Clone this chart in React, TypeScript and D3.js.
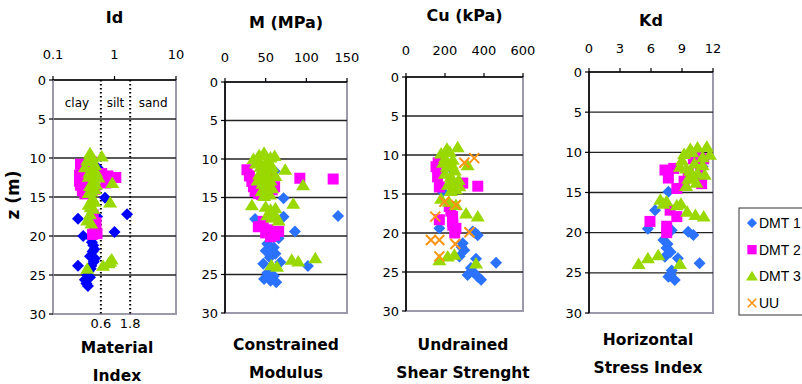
import * as d3 from "d3";

type Pt = [number, number]; // [value, depth z (m)]

const W = 802;
const H = 384;

const depthTicks = [0, 5, 10, 15, 20, 25, 30];

// Id panel
const idTicks = [0.1, 1, 10];
const idBounds = [0.6, 1.8];
const soilNames = ["clay", "silt", "sand"];
const idDmt1: Pt[] = [
  [0.54, 11.3], [0.7, 15.1], [1.6, 17.2], [0.255, 17.8], [0.52, 17.5], [1.0, 19.5],
  [0.31, 20.0], [0.42, 20.3], [0.45, 21.2], [0.44, 22.0], [0.4, 22.6], [0.48, 22.9],
  [0.46, 23.3], [0.42, 23.8], [0.255, 23.8], [0.38, 24.5], [0.36, 25.0], [0.4, 25.3],
  [0.33, 25.6], [0.35, 26.1], [0.43, 20.8], [0.47, 21.7], [0.41, 24.2], [0.37, 26.4],
];
const idDmt2: Pt[] = [
  [0.28, 10.8], [0.31, 11.5], [0.27, 12.2], [0.33, 12.8], [0.28, 13.5], [0.3, 14.2],
  [0.36, 14.5], [0.38, 11.0], [0.4, 12.4], [0.36, 13.3], [0.45, 11.6], [0.48, 14.0],
  [0.62, 12.0], [0.78, 12.3], [1.05, 12.5], [0.72, 13.2], [0.45, 17.3], [0.5, 18.3],
  [0.47, 19.0], [0.52, 19.7], [0.44, 19.8], [0.3, 11.0], [0.27, 13.0], [0.33, 14.6],
  [0.42, 10.5], [0.48, 18.8], [0.43, 17.9],
];
const idDmt3: Pt[] = [
  [0.4, 9.4], [0.36, 10.3], [0.44, 10.4], [0.62, 9.8], [0.33, 11.2], [0.42, 11.5],
  [0.5, 11.8], [0.38, 12.4], [0.46, 12.8], [0.55, 12.5], [0.92, 13.2], [0.4, 13.6],
  [0.48, 14.0], [0.38, 14.5], [0.44, 15.2], [0.85, 15.7], [0.38, 16.0], [0.45, 16.5],
  [0.4, 17.2], [0.36, 18.0], [0.42, 18.4], [0.9, 23.0], [0.8, 23.5], [0.65, 23.8],
  [0.36, 24.2], [0.43, 9.9], [0.48, 10.9], [0.39, 11.9], [0.44, 13.1], [0.5, 13.4],
  [0.42, 14.3], [0.47, 15.6], [0.41, 16.3], [0.85, 23.3],
];

// M panel
const mTicks = [0, 50, 100, 150];
const mDmt1: Pt[] = [
  [61, 11.6], [72, 15.1], [139, 17.4], [37, 17.8], [72, 17.5], [58, 17.3], [86, 19.4],
  [57, 20.1], [66, 20.3], [52, 21.0], [60, 21.5], [50, 21.9], [62, 22.3], [55, 22.8],
  [68, 23.4], [47, 23.6], [102, 23.9], [58, 24.2], [52, 24.8], [60, 25.2], [48, 25.6],
  [56, 25.8], [63, 26.0], [55, 21.3], [58, 22.0], [52, 25.2],
];
const mDmt2: Pt[] = [
  [27, 11.4], [33, 12.9], [37, 14.2], [41, 14.5], [52, 12.0], [61, 13.6], [92, 12.5],
  [133, 12.6], [47, 18.1], [41, 18.8], [53, 19.2], [61, 19.9], [66, 19.4], [56, 20.1],
  [30, 12.2], [35, 13.6], [45, 14.6], [58, 14.0], [50, 19.6],
];
const mDmt3: Pt[] = [
  [35, 10.0], [42, 9.5], [48, 9.2], [56, 9.8], [61, 9.6], [38, 10.6], [44, 11.0],
  [50, 10.8], [55, 11.4], [74, 11.4], [42, 12.0], [48, 12.4], [56, 12.8], [62, 12.2],
  [46, 13.2], [52, 13.6], [96, 13.4], [45, 14.2], [55, 14.6], [84, 15.8], [33, 16.0],
  [50, 16.2], [56, 16.6], [62, 16.4], [52, 17.3], [58, 17.6], [66, 18.0], [82, 23.1],
  [90, 23.3], [111, 22.9], [57, 23.8], [64, 24.0], [40, 9.9], [52, 10.2], [46, 11.6],
  [58, 11.0], [52, 12.0], [40, 12.8], [50, 13.0], [58, 13.8], [48, 14.8], [60, 17.0],
];

// Cu panel
const cuTicks = [0, 200, 400, 600];
const cuDmt1: Pt[] = [
  [188, 14.7], [240, 12.0], [171, 19.4], [342, 19.8], [368, 20.3], [291, 21.3],
  [299, 22.2], [274, 23.0], [359, 23.3], [462, 23.8], [333, 24.5], [316, 25.4],
  [368, 25.6], [345, 25.0], [385, 26.0], [285, 21.8], [355, 20.0],
];
const cuDmt2: Pt[] = [
  [154, 11.5], [162, 12.8], [171, 14.1], [291, 13.6], [368, 14.0], [222, 16.6],
  [239, 17.9], [171, 18.3], [239, 18.5], [256, 19.4], [250, 20.0], [165, 11.0],
  [240, 19.0], [230, 17.2],
];
const cuDmt3: Pt[] = [
  [180, 9.8], [210, 9.2], [265, 9.0], [200, 10.4], [240, 10.6], [316, 11.3], [210, 11.5],
  [250, 12.0], [230, 12.8], [270, 13.2], [215, 13.8], [255, 14.4], [274, 14.0],
  [180, 15.6], [256, 16.4], [220, 16.0], [308, 17.5], [368, 17.9], [171, 23.5],
  [214, 23.0], [248, 22.8], [359, 23.9], [225, 9.6], [190, 11.0], [235, 11.2],
  [200, 12.4], [245, 13.4], [230, 14.6],
];
const cuUU: Pt[] = [
  [299, 11.0], [350, 10.4], [197, 16.0], [256, 16.4], [150, 17.9], [128, 20.9],
  [171, 20.9], [253, 21.4], [325, 19.9], [171, 23.0],
];

// Kd panel
const kdTicks = [0, 3, 6, 9, 12];
const kdDmt1: Pt[] = [
  [7.68, 14.9], [6.4, 17.2], [5.7, 19.5], [8.0, 19.7], [9.6, 19.9], [10.1, 20.3],
  [7.2, 20.9], [7.5, 21.9], [7.35, 23.0], [8.6, 23.2], [10.7, 23.8], [8.0, 24.7],
  [7.68, 25.5], [8.3, 25.9], [11.0, 11.8], [7.6, 21.4], [7.9, 22.4], [7.9, 25.2],
];
const kdDmt2: Pt[] = [
  [7.35, 12.2], [7.68, 13.2], [8.5, 14.5], [9.6, 12.4], [10.1, 10.8], [11.1, 10.8],
  [10.9, 13.9], [7.85, 17.2], [8.5, 18.0], [5.9, 18.6], [7.52, 19.2], [7.52, 20.0],
  [8.2, 12.0], [10.5, 10.2], [10.8, 12.6], [9.2, 13.6],
];
const kdDmt3: Pt[] = [
  [9.2, 10.2], [9.8, 9.6], [10.5, 9.4], [11.4, 9.3], [11.7, 10.3], [9.0, 11.0],
  [8.8, 11.8], [10.2, 11.4], [11.0, 11.6], [9.8, 12.3], [10.5, 12.6], [9.6, 13.3],
  [10.4, 13.8], [11.2, 12.8], [9.4, 14.2], [6.9, 15.9], [7.5, 16.1], [8.5, 16.6],
  [9.5, 17.4], [10.3, 17.8], [11.1, 18.0], [4.8, 23.9], [5.7, 23.2], [6.7, 22.8],
  [8.8, 23.9], [10.0, 10.0], [11.0, 10.6], [9.4, 12.0], [10.0, 13.0], [7.2, 16.4],
  [8.9, 16.4],
];

const legendNames = ["DMT 1", "DMT 2", "DMT 3", "UU"];

const magenta = "#ff00ff";
const green = "#99d900";
const orange = "#ff9414";
const lightBlue = "#2b72ff";
const frameColor = "#9a9aab";
const font = "'DejaVu Sans', Verdana, sans-serif";

type Kind = "diamond" | "square" | "triangle" | "cross";

const markerPath = (k: Kind) => {
  if (k === "diamond") return "M0,-6L6,0L0,6L-6,0Z";
  if (k === "square") return "M-5.5,-5.5H5.5V5.5H-5.5Z";
  if (k === "triangle") return "M0,-6.5L7,5L-7,5Z";
  return "M-5,-5L5,5M5,-5L-5,5";
};

const Marker = ({ k, x, y, color }: { k: Kind; x: number; y: number; color: string }) =>
  k === "cross" ? (
    <path d={markerPath(k)} transform={`translate(${x},${y})`} stroke={color} strokeWidth={2} fill="none" />
  ) : (
    <path d={markerPath(k)} transform={`translate(${x},${y})`} fill={color} />
  );

type Series = { data: Pt[]; kind: Kind; color: string };

type PanelCfg = {
  x: d3.ScaleContinuousNumeric<number, number>;
  ticks: number[];
  top: number;
  bottom: number;
  title: string;
  titleY: number;
  tickY: number;
  label: string[];
  labelX: number;
  labelY: number;
  series: Series[];
};

const panels: PanelCfg[] = [
  {
    x: d3.scaleLog().domain([0.1, 10]).range([53, 176]),
    ticks: idTicks,
    top: 80,
    bottom: 314,
    title: "Id",
    titleY: 17,
    tickY: 54,
    label: ["Material", "Index"],
    labelX: 117,
    labelY: 348,
    series: [
      { data: idDmt1, kind: "diamond", color: "#0000ff" },
      { data: idDmt2, kind: "square", color: magenta },
      { data: idDmt3, kind: "triangle", color: green },
    ],
  },
  {
    x: d3.scaleLinear().domain([0, 150]).range([225, 347]),
    ticks: mTicks,
    top: 82,
    bottom: 313,
    title: "M (MPa)",
    titleY: 22,
    tickY: 57,
    label: ["Constrained", "Modulus"],
    labelX: 286,
    labelY: 345,
    series: [
      { data: mDmt1, kind: "diamond", color: lightBlue },
      { data: mDmt2, kind: "square", color: magenta },
      { data: mDmt3, kind: "triangle", color: green },
    ],
  },
  {
    x: d3.scaleLinear().domain([0, 600]).range([406, 523]),
    ticks: cuTicks,
    top: 77,
    bottom: 311,
    title: "Cu (kPa)",
    titleY: 15,
    tickY: 50,
    label: ["Undrained", "Shear Strenght"],
    labelX: 463,
    labelY: 345,
    series: [
      { data: cuDmt1, kind: "diamond", color: lightBlue },
      { data: cuDmt2, kind: "square", color: magenta },
      { data: cuDmt3, kind: "triangle", color: green },
      { data: cuUU, kind: "cross", color: orange },
    ],
  },
  {
    x: d3.scaleLinear().domain([0, 12]).range([589, 713]),
    ticks: kdTicks,
    top: 72,
    bottom: 313,
    title: "Kd",
    titleY: 20,
    tickY: 48,
    label: ["Horizontal", "Stress Index"],
    labelX: 648,
    labelY: 340,
    series: [
      { data: kdDmt1, kind: "diamond", color: lightBlue },
      { data: kdDmt2, kind: "square", color: magenta },
      { data: kdDmt3, kind: "triangle", color: green },
    ],
  },
];

const legendItems: { kind: Kind; color: string }[] = [
  { kind: "diamond", color: lightBlue },
  { kind: "square", color: magenta },
  { kind: "triangle", color: green },
  { kind: "cross", color: orange },
];

const Panel = ({ p, idx }: { p: PanelCfg; idx: number }) => {
  const [x0, x1] = p.x.range();
  const y = d3.scaleLinear().domain([0, 30]).range([p.top, p.bottom]);
  const midX = (x0 + x1) / 2;
  return (
    <g>
      <text x={midX} y={p.titleY} textAnchor="middle" dominantBaseline="central" fontSize={16} fontWeight="bold">
        {p.title}
      </text>
      {p.ticks.map((t) => (
        <text key={t} x={p.x(t)} y={p.tickY} textAnchor="middle" dominantBaseline="central" fontSize={13}>
          {t}
        </text>
      ))}
      {/* frame */}
      <rect x={x0} y={p.top} width={x1 - x0} height={p.bottom - p.top} fill="#fff" stroke={frameColor} strokeWidth={2} />
      {depthTicks.slice(1, -1).map((t) => (
        <line key={t} x1={x0} x2={x1} y1={y(t)} y2={y(t)} stroke="#222" strokeWidth={1.3} />
      ))}
      {/* Id zone boundaries */}
      {idx === 0 && (
        <g>
          {idBounds.map((b) => (
            <line key={b} x1={p.x(b)} x2={p.x(b)} y1={p.top} y2={p.bottom} stroke="#000" strokeWidth={2} strokeDasharray="1.6,2.4" />
          ))}
          {idBounds.map((b) => (
            <text key={b} x={p.x(b)} y={323} textAnchor="middle" dominantBaseline="central" fontSize={13}>
              {b}
            </text>
          ))}
          {soilNames.map((s, i) => {
            const edges = [0.1, ...idBounds, 10];
            const v = Math.sqrt(edges[i] * edges[i + 1]);
            return (
              <text key={s} x={p.x(v)} y={103} textAnchor="middle" dominantBaseline="central" fontSize={12}>
                {s}
              </text>
            );
          })}
        </g>
      )}
      {/* top axis */}
      <line x1={x0} x2={x1} y1={p.top} y2={p.top} stroke="#000" strokeWidth={1.5} />
      {p.ticks.map((t) => (
        <line key={t} x1={p.x(t)} x2={p.x(t)} y1={p.top - 4} y2={p.top} stroke="#000" strokeWidth={1.2} />
      ))}
      {/* left axis */}
      <line x1={x0} x2={x0} y1={p.top} y2={p.bottom} stroke={idx === 0 ? frameColor : "#000"} strokeWidth={1.6} />
      {depthTicks.map((t) => (
        <line key={t} x1={x0 - 4} x2={x0} y1={y(t)} y2={y(t)} stroke="#000" strokeWidth={1.2} />
      ))}
      {depthTicks.map((t) => (
        <text key={t} x={x0 - 7} y={y(t)} textAnchor="end" dominantBaseline="central" fontSize={13}>
          {t}
        </text>
      ))}
      {p.series.map((s, si) => (
        <g key={si}>
          {s.data.map((d, i) => (
            <Marker key={i} k={s.kind} x={p.x(d[0])} y={y(d[1])} color={s.color} />
          ))}
        </g>
      ))}
      {p.label.map((l, i) => (
        <text key={l} x={p.labelX} y={p.labelY + i * 28} textAnchor="middle" dominantBaseline="central" fontSize={15.5} fontWeight="bold">
          {l}
        </text>
      ))}
    </g>
  );
};

const App = () => {
  const legendY = d3.scalePoint<string>().domain(legendNames).range([223, 303]);
  return (
    <svg
      width={W}
      height={H}
      style={{ position: "absolute", left: 0, top: 0, background: "#fff" }}
      fontFamily={font}
      fill="#000"
    >
      <rect width={W} height={H} fill="#fff" />
      {panels.map((p, i) => (
        <Panel key={p.title} p={p} idx={i} />
      ))}
      <text
        transform="translate(13,195) rotate(-90)"
        textAnchor="middle"
        dominantBaseline="central"
        fontSize={17}
        fontWeight="bold"
      >
        z (m)
      </text>
      {/* legend */}
      <rect x={739} y={208} width={80} height={107} fill="#fff" stroke="#333" strokeWidth={1} />
      {legendNames.map((n, i) => (
        <g key={n}>
          <g transform={`translate(752,${legendY(n)}) scale(0.85)`}>
            <Marker k={legendItems[i].kind} x={0} y={0} color={legendItems[i].color} />
          </g>
          <text x={759} y={legendY(n)} dominantBaseline="central" fontSize={14} fontFamily="'Liberation Sans', Arial, sans-serif">
            {n}
          </text>
        </g>
      ))}
    </svg>
  );
};

export default App;
